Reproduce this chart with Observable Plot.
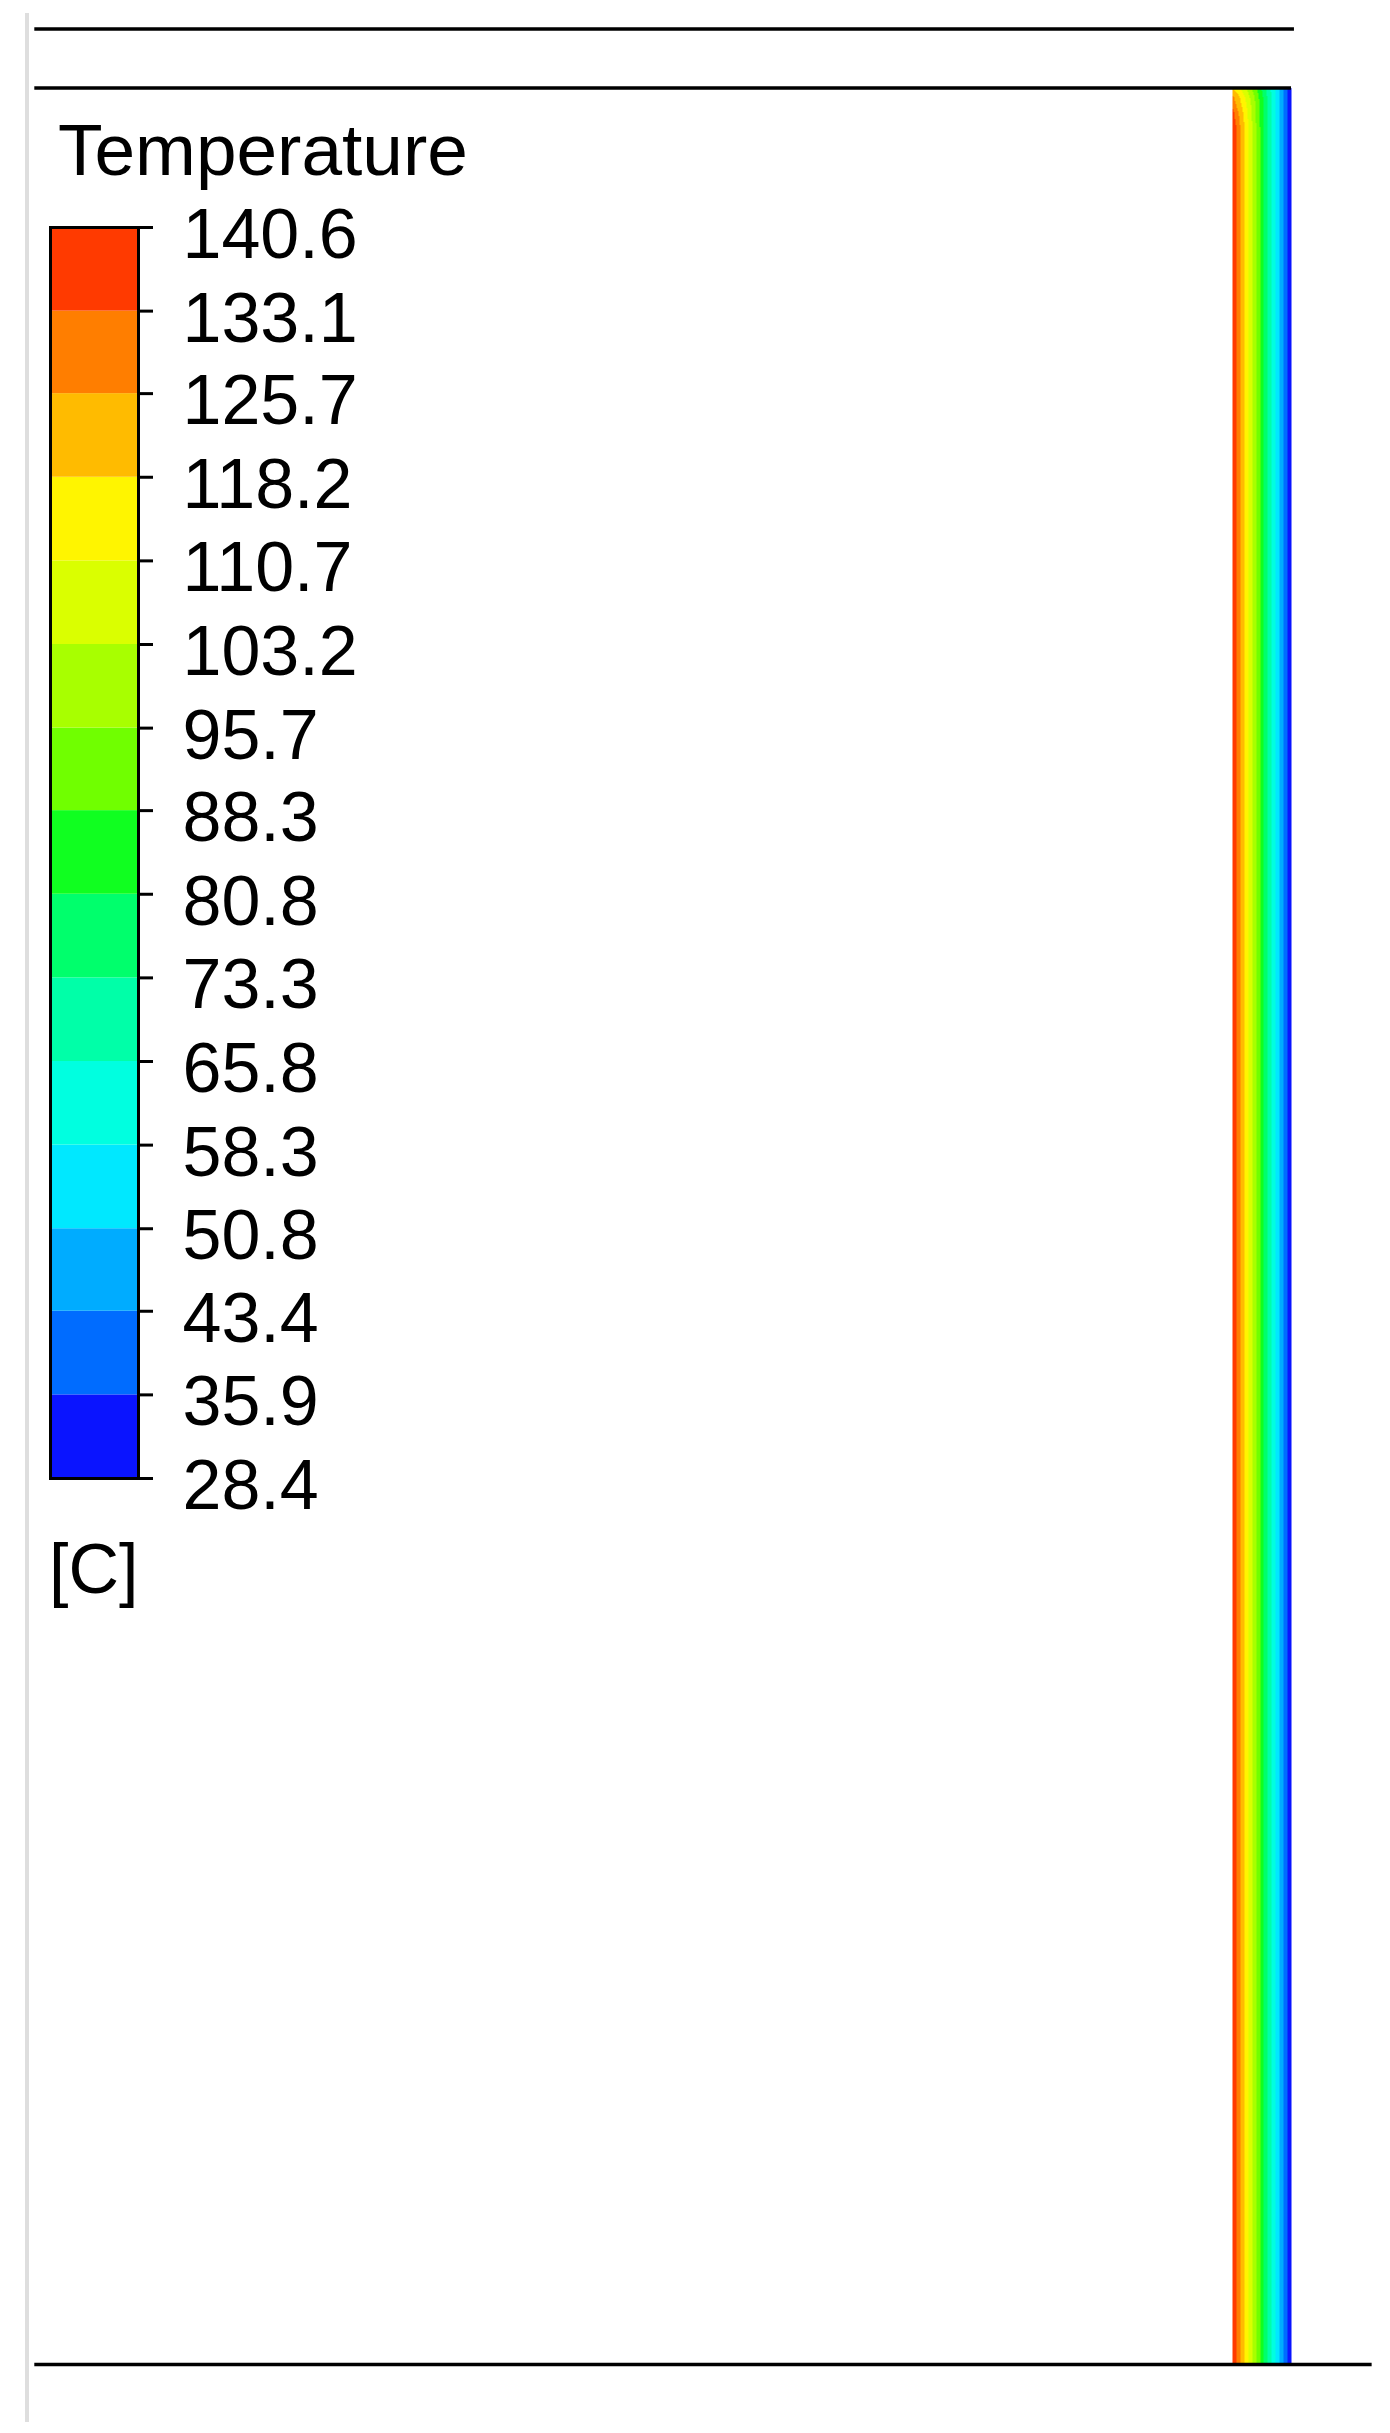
<!DOCTYPE html>
<html>
<head>
<meta charset="utf-8">
<script src="https://cdn.jsdelivr.net/npm/d3@7"></script>
<script src="https://cdn.jsdelivr.net/npm/@observablehq/plot@0.6"></script>
<style>
  html, body { margin: 0; padding: 0; background: #fff; }
  #page { position: relative; width: 1390px; height: 2433px; overflow: hidden;
          font-family: "Liberation Sans", Arial, sans-serif; color: #000; }
  #main, #legend { position: absolute; left: 0; top: 0; }
  #border { position: absolute; left: 25px; top: 13px; width: 4px; height: 2409px; background: #dedede; }
  #title { position: absolute; left: 58px; top: 113px; font-size: 73px; line-height: 73px; white-space: nowrap; }
  #unit { position: absolute; left: 49px; top: 1534px; font-size: 70px; line-height: 70px; white-space: nowrap; }
</style>
</head>
<body>
<div id="page">
  <div id="main"></div>
  <div id="border"></div>
  <div id="legend"></div>
  <div id="title">Temperature</div>
  <div id="unit">[C]</div>
</div>
<script>
// ---- Legend levels (top to bottom) and band colours (top to bottom) ----
const levels = [140.6, 133.1, 125.7, 118.2, 110.7, 103.2, 95.7, 88.3, 80.8, 73.3, 65.8, 58.3, 50.8, 43.4, 35.9, 28.4];
const bandColors = ["#ff3a00", "#ff7e00", "#ffbb00", "#fff500", "#daff00", "#a8ff00", "#70ff00", "#10ff20",
                    "#00ff6c", "#00ffa8", "#00ffe0", "#00e8ff", "#00acff", "#006cff", "#0a14ff"];
const legendTitle = "Temperature";
const legendUnit = "[C]";

// ---- Temperature field in the wall (x: mm from hot face, y: mm height from bottom) ----
const wallX = [0, 1, 2, 3, 4, 5, 6];
const rowHeights = [0, 227.5, 229, 230.5, 231.5];
const rowTemps = [
  [140.6, 121.9, 103.2, 84.5, 65.8, 47.1, 28.4],
  [140.6, 121.9, 103.2, 84.5, 65.8, 47.1, 28.4],
  [136.0, 119.5, 102.5, 84.2, 65.6, 47.0, 28.4],
  [128.0, 115.0, 100.0, 83.0, 65.0, 46.8, 28.4],
  [118.0, 108.0, 95.0, 80.0, 64.0, 46.5, 28.4]
];

// ---- Geometry outline edges (model mm) ----
const wallThickness = 6;
const wallHeight = 231.5;
const edges = [
  {x1: -121.8, x2: 6.3, y: 237.5},
  {x1: -121.8, x2: 6.0, y: 231.5},
  {x1: -121.8, x2: 14.2, y: 0}
];

// ---- derived tables ----
const field = [];
rowHeights.forEach((h, i) => wallX.forEach((x, j) => field.push({x, y: h, t: rowTemps[i][j]})));
const ascLevels = levels.slice().reverse();
const colorScale = {type: "threshold", domain: ascLevels.slice(1, -1), range: bandColors.slice().reverse()};
const bands = ascLevels.slice(0, -1).map((lo, i) => ({lo, hi: ascLevels[i + 1]}));

// camera (model mm -> page pixels)
const W = 1390, H = 2433;
const pxPerMm = 59 / wallThickness;
const hotFacePx = 1232, bottomPx = 2364;

const main = Plot.plot({
  width: W, height: H,
  margin: 0,
  x: {domain: [-hotFacePx / pxPerMm, (W - hotFacePx) / pxPerMm], axis: null},
  y: {domain: [(bottomPx - H) / pxPerMm, bottomPx / pxPerMm], axis: null},
  color: colorScale,
  style: {background: "transparent"},
  marks: [
    Plot.raster(field, {x: "x", y: "y", fill: "t", interpolate: "barycentric",
      x1: 0, x2: wallThickness, y1: 0, y2: wallHeight, pixelSize: 1}),
    Plot.ruleY(edges, {y: "y", x1: "x1", x2: "x2", stroke: "#000", strokeWidth: 3.5})
  ]
});
document.getElementById("main").appendChild(main);

const legend = Plot.plot({
  width: 420, height: 1560,
  marginLeft: 50, marginRight: 282, marginTop: 227, marginBottom: 82,
  x: {domain: [0, 1], axis: null},
  y: {domain: [ascLevels[0], ascLevels[ascLevels.length - 1]], axis: null},
  color: colorScale,
  style: {background: "transparent", fontFamily: "Liberation Sans, Arial, sans-serif", overflow: "visible"},
  marks: [
    Plot.rect(bands, {x1: 0, x2: 1, y1: "lo", y2: "hi", fill: "lo"}),
    Plot.frame({stroke: "#000", strokeWidth: 3}),
    Plot.ruleY(levels, {x1: 1, x2: 1, insetRight: -15, stroke: "#000", strokeWidth: 3}),
    Plot.text(levels, {y: d => d, frameAnchor: "right", text: d3.format(".1f"), textAnchor: "start",
      dx: 44, dy: 8, fontSize: 70, fill: "#000"})
  ]
});
document.getElementById("legend").appendChild(legend);
document.getElementById("title").textContent = legendTitle;
document.getElementById("unit").textContent = legendUnit;
</script>
</body>
</html>
